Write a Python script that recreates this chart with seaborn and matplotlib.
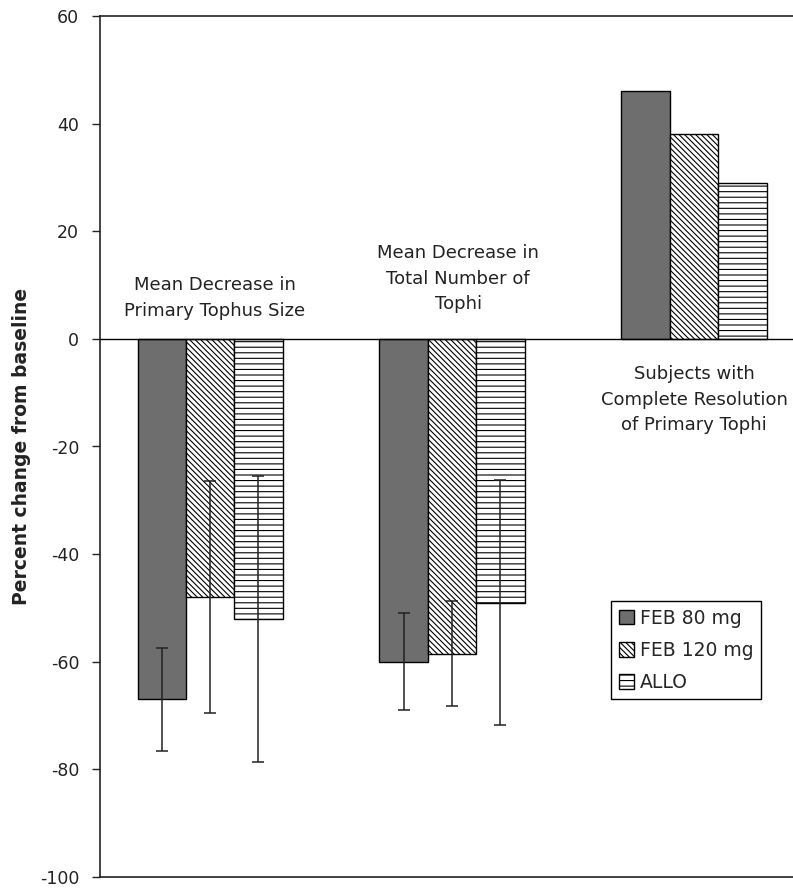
import numpy as np
import pandas as pd
import matplotlib
matplotlib.use("Agg")
import matplotlib.pyplot as plt
import seaborn as sns

# ---- data ----
measures = ["Primary Tophus Size", "Total Number of Tophi", "Complete Resolution"]
treatments = ["FEB 80 mg", "FEB 120 mg", "ALLO"]
feb80_values = [-67, -60, 46]
feb120_values = [-48, -58.5, 38]
allo_values = [-52, -49, 29]
feb80_err = [9.5, 9, np.nan]
feb120_err = [21.5, 9.7, np.nan]
allo_err = [26.6, 22.7, np.nan]
group_labels = ["Mean Decrease in\nPrimary Tophus Size",
                "Mean Decrease in\nTotal Number of\nTophi",
                "Subjects with\nComplete Resolution\nof Primary Tophi"]
y_ticks = [-100, -80, -60, -40, -20, 0, 20, 40, 60]

rows = []
for t, vals, errs in zip(treatments, [feb80_values, feb120_values, allo_values],
                         [feb80_err, feb120_err, allo_err]):
    for m, v, e in zip(measures, vals, errs):
        rows.append({"measure": m, "treatment": t, "value": v, "err": e})
df = pd.DataFrame(rows)

sns.set_style("ticks")
plt.rcParams["font.family"] = ["DejaVu Sans"]
plt.rcParams["hatch.linewidth"] = 0.8

fig = plt.figure(figsize=(7.93, 8.88), dpi=100)
ax = fig.add_axes([100/793, 1-877/888, 1-100/793, (877-16)/888])

colors = {"FEB 80 mg": "#6e6e6e", "FEB 120 mg": "white", "ALLO": "white"}
sns.barplot(data=df, x="measure", y="value", hue="treatment",
            order=measures, hue_order=treatments, palette=colors,
            saturation=1, width=0.6, gap=0, errorbar=None,
            edgecolor="black", linewidth=1.0, legend=False, ax=ax)

bar_containers = list(ax.containers)
hatches = {"FEB 80 mg": "", "FEB 120 mg": "\\" * 6, "ALLO": "---"}
errs_by_t = {"FEB 80 mg": feb80_err, "FEB 120 mg": feb120_err, "ALLO": allo_err}
vals_by_t = {"FEB 80 mg": feb80_values, "FEB 120 mg": feb120_values, "ALLO": allo_values}
for cont, t in zip(bar_containers, treatments):
    xs = []
    for p in cont.patches:
        p.set_hatch(hatches[t])
        xs.append(p.get_x() + p.get_width() / 2)
    ax.errorbar(xs, vals_by_t[t], yerr=errs_by_t[t], fmt="none",
                ecolor="#222222", elinewidth=1.1, capsize=4, capthick=1.1, zorder=5)

ax.axhline(0, color="black", lw=1.0, zorder=6)

ax.set_xlim(-0.455, 2.409)
ax.set_ylim(-100, 60)
ax.set_yticks(y_ticks)
ax.set_yticklabels([str(v) for v in y_ticks], fontsize=12.5, color="#222222")
ax.tick_params(axis="y", length=6, width=1, pad=9, direction="out", color="#222222")
ax.set_xticks([])
ax.set_xlabel("")
ax.set_ylabel("Percent change from baseline", fontsize=13.5, fontweight="bold",
              labelpad=6, color="#222222")

for s in ["left", "top", "bottom"]:
    ax.spines[s].set_visible(True)
    ax.spines[s].set_color("#222222")
    ax.spines[s].set_linewidth(1.2)
ax.spines["right"].set_visible(False)

text_x = [0.02, 1.025, 2.0]
text_y = [7.6, 11.2, -11.3]
for x, y, s in zip(text_x, text_y, group_labels):
    ax.text(x, y, s, ha="center", va="center", fontsize=13, color="#222222",
            linespacing=1.55)

handles = [cont.patches[0] for cont in bar_containers]
leg = ax.legend(handles, treatments, loc="upper left",
                bbox_to_anchor=((611-100)/693, 1-(601-16)/861),
                frameon=True, fancybox=False, edgecolor="black", framealpha=1,
                fontsize=13.5, handlelength=0.85, handleheight=0.85,
                handletextpad=0.3, labelspacing=0.7, borderpad=0.4,
                borderaxespad=0)
leg.get_frame().set_linewidth(1.0)

fig.savefig("out.png", dpi=100, facecolor="white")
